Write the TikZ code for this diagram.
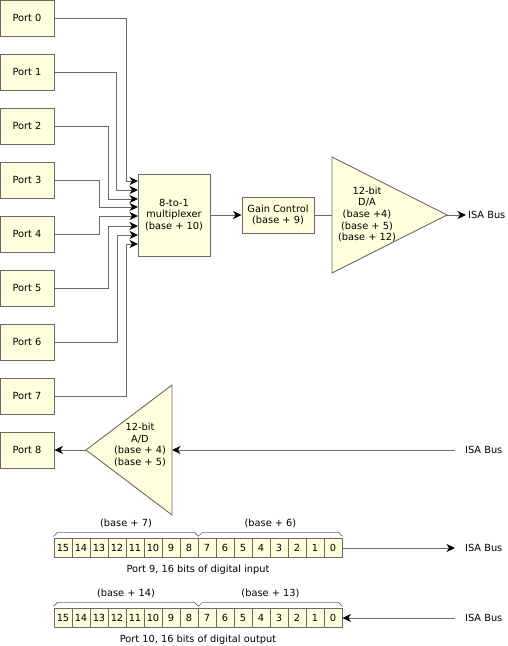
\documentclass[tikz,border=0pt]{standalone}
\usepackage{fontspec}
\setmainfont{DejaVu Sans}
\usetikzlibrary{arrows.meta}
\definecolor{boxfill}{RGB}{255,255,221}
\definecolor{boxline}{RGB}{105,105,105}
\begin{document}
\begin{tikzpicture}[x=1pt, y=-1pt, font=\fontsize{9.8}{11.7}\selectfont,
  every node/.append style={inner sep=0pt},
  box/.style={draw=boxline, fill=boxfill, line width=.9pt, align=center},
  port/.style={box, minimum width=54pt, minimum height=36pt},
  bit/.style={box, minimum width=18pt, minimum height=18.5pt},
  line/.style={draw=boxline, line width=.9pt},
  wire/.style={line, -{Stealth[length=8.5pt, width=8pt, inset=2.5pt, color=black]}},
  brace/.style={draw=boxline, line width=.6pt},
  bus/.style={anchor=west, inner xsep=10pt}]
  \useasboundingbox (0,0) rectangle (508,646);
  \foreach \i in {0,...,8}
    \node[port] (p\i) at (27,{18+54*\i}) {Port \i};
  \node[box, minimum width=72pt, minimum height=82pt] (mux) at (174,215) {8-to-1\\multiplexer\\(base + 10)};
  \node[box, minimum width=72pt, minimum height=36pt] (gain) at (278,215) {Gain Control\\(base + 9)};
  \foreach \y [count=\i from 0] in {181,190,199,207,216,226,235,244}
    \coordinate (in\i) at (138,\y);
  \foreach \i/\dx in {0/12,1/22,2/30,3/39,4/39,5/30,6/21,7/12}
    \draw[wire] (p\i.east) -| ([xshift=-\dx pt]in\i) -- (in\i);
  \draw[wire] (mux.east) -- (gain.west);
  \draw[box] (332,157) coordinate (da top) -- (332,273) -- (447,215) coordinate (da tip) -- cycle;
  \node[align=center] (da) at (367,214.5) {12-bit\\D/A\\(base +4)\\(base + 5)\\(base + 12)};
  \draw[line] (gain.east) -- (gain.east -| da top);
  \node[bus, inner xsep=2pt] (isa0) at (466,215) {ISA Bus};
  \draw[wire] (da tip) -- (isa0.west);
  \draw[box] (172,385) -- (172,515) -- (86,450) coordinate (ad tip) -- cycle;
  \coordinate (ad in) at (172,450);
  \node[align=center] (ad) at (140,445) {12-bit\\A/D\\(base + 4)\\(base + 5)};
  \node[bus] (isa1) at (455,450) {ISA Bus};
  \draw[wire] (isa1.west) -- (ad in);
  \draw[wire] (ad tip) -- (p8.east);
  \foreach \i in {0,...,15} {
    \node[bit] (a\i) at ({63+18*(15-\i)},548) {\i};
    \node[bit] (b\i) at ({63+18*(15-\i)},618) {\i};
  }
  \foreach \r/\hi/\lo/\txt in {a/7/6/{Port 9, 16 bits of digital input},b/14/13/{Port 10, 16 bits of digital output}} {
    \draw[brace] ([yshift=2pt]\r15.north west) -- ++(4,-4) -- ([shift={(-4,-6)}]\r8.north east)
      -- ([yshift=2pt]\r8.north east) -- ++(4,-4) -- ([shift={(-4,-6)}]\r0.north east) -- ([yshift=2pt]\r0.north east);
    \path (\r15.north west) -- node[yshift=15pt] {(base + \hi)} (\r8.north east);
    \path (\r8.north east) -- node[yshift=15pt] {(base + \lo)} (\r0.north east);
    \path (\r15.south west) -- node[yshift=-12pt] {\txt} (\r0.south east);
  }
  \node[bus] (isa2) at (455,548) {ISA Bus};
  \node[bus] (isa3) at (455,618) {ISA Bus};
  \draw[wire] (a0.east) -- (isa2.west);
  \draw[wire] (isa3.west) -- (b0.east);
\end{tikzpicture}
\end{document}
